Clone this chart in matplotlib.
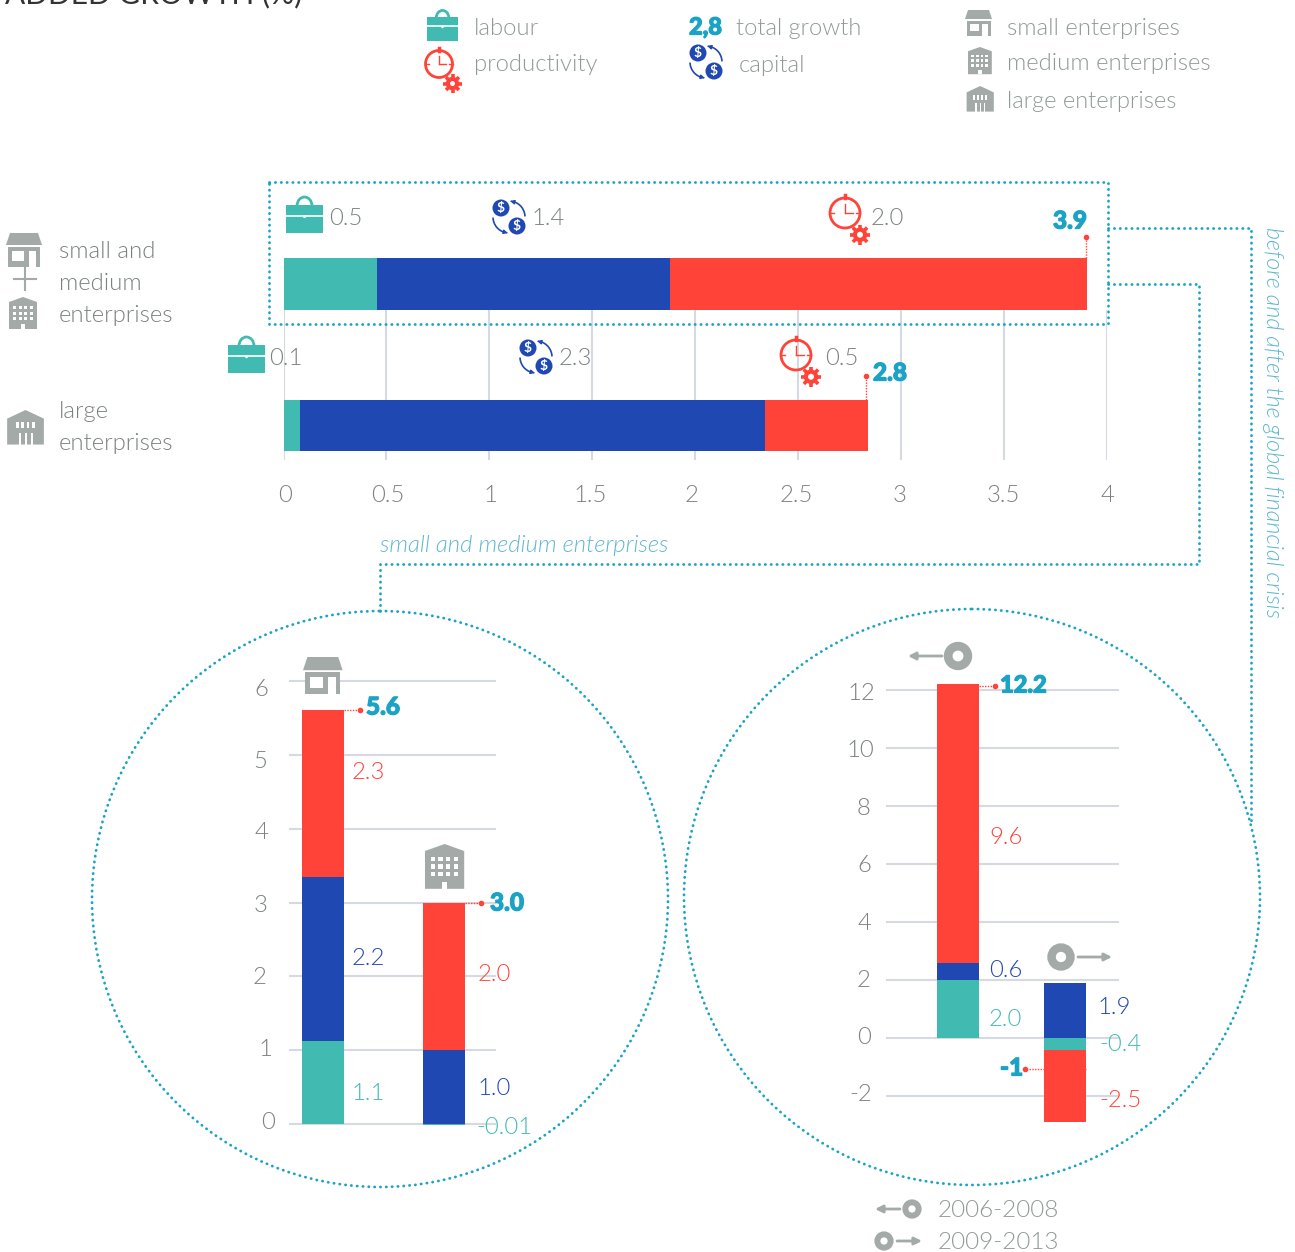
import numpy as np
import matplotlib
matplotlib.use('Agg')
import matplotlib.pyplot as plt
import matplotlib.patheffects as pe
from matplotlib.patches import Rectangle, Circle, Polygon, Arc, Ellipse

W, H = 1295, 1252
TEAL = '#41bbb1'
BLUE = '#2048b2'
RED = '#ff4338'
CYAN = '#1ba3c6'
GRID = '#d5dae2'
ICON = '#a3aaa7'
TXT = '#8f9a98'
NUM = '#7b8180'
LIGHT = 300

plt.rcParams['font.family'] = ['Lato', 'DejaVu Sans']

# top chart, percent points
top_groups = ['sme', 'large']
top_labour = [0.455, 0.08]
top_capital = [1.425, 2.26]
top_prod = [2.025, 0.50]
top_ticks = [0, 0.5, 1, 1.5, 2, 2.5, 3, 3.5, 4]
top_ticklabels = ['0', '0.5', '1', '1.5', '2', '2.5', '3', '3.5', '4']

# small vs medium
size_labour = [1.13, -0.01]
size_capital = [2.22, 1.0]
size_prod = [2.26, 2.0]
size_ticks = [0, 1, 2, 3, 4, 5, 6]

# before vs after the crisis
per_labour = [2.0, -0.4]
per_capital = [0.6, 1.9]
per_prod = [9.6, -2.5]
per_ticks = [-2, 0, 2, 4, 6, 8, 10, 12]


def px_axes(fig, left, top, right, bottom):
    # axes placed by pixel box, y measured from the top of the picture
    return fig.add_axes([left / W, 1 - bottom / H, (right - left) / W, (bottom - top) / H])


def clean(ax):
    ax.patch.set_alpha(0)
    for s in ax.spines.values():
        s.set_visible(False)
    ax.tick_params(length=0, labelcolor=NUM, labelsize=17)


fig = plt.figure(figsize=(W / 100, H / 100), dpi=100, facecolor='white')

# ---- top horizontal bars
ax = px_axes(fig, 283.5, 230, 1106.5, 460)
clean(ax)
row_h = 141.5
ax.set_xlim(0, 4)
ax.set_ylim((460 - 284) / row_h, (230 - 284) / row_h)
ypos = np.arange(len(top_groups))
ax.vlines(top_ticks, 26 / row_h, (460 - 284) / row_h, color=GRID, lw=1.5, zorder=1)
ax.barh(ypos, top_labour, 0.364, color=TEAL, zorder=2)
ax.barh(ypos, top_capital, 0.364, left=top_labour, color=BLUE, zorder=2)
ax.barh(ypos, top_prod, 0.364, left=np.add(top_labour, top_capital), color=RED, zorder=2)
ax.set_xticks([])
ax.set_yticks([])

# ---- small / medium bars
ax2 = px_axes(fig, 289, 660, 496, 1140)
clean(ax2)
unit = 73.8
ax2.set_ylim((1124 - 1140) / unit, (1124 - 660) / unit)
gap = 121.0
ax2.set_xlim((289 - 323) / gap, (496 - 323) / gap)
ax2.hlines(size_ticks, (289 - 323) / gap, (496 - 323) / gap, color=GRID, lw=1.5, zorder=1)
xpos = np.arange(2)
ax2.bar(xpos, size_labour, 42 / gap, color=TEAL, zorder=2)
base = np.maximum(size_labour, 0)
ax2.bar(xpos, size_capital, 42 / gap, bottom=base, color=BLUE, zorder=2)
ax2.bar(xpos, size_prod, 42 / gap, bottom=base + np.array(size_capital), color=RED, zorder=2)
ax2.set_yticks([])
ax2.set_xticks([])

# ---- crisis bars
ax3 = px_axes(fig, 886, 660, 1119, 1140)
clean(ax3)
unit3 = 29.0
ax3.set_ylim((1038 - 1140) / unit3, (1038 - 660) / unit3)
gap3 = 107.0
ax3.set_xlim((885.5 - 958) / gap3, (1119 - 958) / gap3)
ax3.hlines(per_ticks, (885.5 - 958) / gap3, (1119 - 958) / gap3, color=GRID, lw=1.5, zorder=1)
ax3.bar(xpos, per_labour, 42 / gap3, color=TEAL, zorder=2)
ax3.bar(xpos, per_capital, 42 / gap3, bottom=[per_labour[0], 0], color=BLUE, zorder=2)
ax3.bar(xpos, per_prod, 42 / gap3, bottom=[per_labour[0] + per_capital[0], per_labour[1]], color=RED, zorder=2)
ax3.set_yticks([])
ax3.set_xticks([])

# ---- overlay in pixel coordinates for icons, notes and frames
ov = fig.add_axes([0, 0, 1, 1], zorder=5)
ov.set_xlim(0, W)
ov.set_ylim(H, 0)
ov.axis('off')
ov.patch.set_alpha(0)


def label(x, y, s, color=TXT, size=17.2, weight=LIGHT, **kw):
    # lato sits high when centred
    ov.text(x, y + 2.7, s, color=color, fontsize=size, fontweight=weight, va='center', ha=kw.pop('ha', 'left'), **kw)


def bold(x, y, s, size=17.5):
    t = ov.text(x, y + 1, s, color=CYAN, fontsize=size, fontweight='black', va='center', ha='left')
    t.set_path_effects([pe.withStroke(linewidth=0.9, foreground=CYAN)])


def dots(xs, ys, color=CYAN, lw=2.0):
    ov.plot(xs, ys, color=color, lw=lw, ls=(0, (0.1, 2.0)), dash_capstyle='round', solid_capstyle='round')


def leader(xs, ys):
    ov.plot(xs, ys, color=RED, lw=1.0, ls=(0, (1, 1)))
    ov.plot(xs[-1], ys[-1], 'o', color=RED, ms=3)


def briefcase(x, y, s=1.0):
    # x, y = top left of the case body
    w, h = 37 * s, 28 * s
    ov.add_patch(Arc((x + w / 2, y + 1), 15 * s, 18 * s, theta1=180, theta2=360, color=TEAL, lw=2))
    ov.add_patch(Rectangle((x, y), w, h, color=TEAL, lw=0))
    ov.plot([x, x + w], [y + h * 0.38] * 2, color='white', lw=1.2)
    ov.add_patch(Circle((x + w / 2, y + h * 0.38 + 1), 1.5 * s, color='white', lw=0, zorder=3))


def stopwatch(x, y, r=15.0):
    ov.add_patch(Circle((x, y), r, fill=False, ec=RED, lw=2))
    ov.plot([x, x], [y - r - 3, y - r], color=RED, lw=2.5)
    ov.plot([x, x], [y - r * 0.6, y], color=RED, lw=1)
    ov.plot([x, x + r * 0.55], [y, y], color=RED, lw=1)
    ov.plot([x - r, x - r * 0.75], [y, y], color=RED, lw=1)
    ov.plot([x + r, x + r * 0.75], [y, y], color=RED, lw=1)
    gx, gy = x + r * 1.0, y + r * 1.45
    g = r * 0.5
    for a in np.arange(0, np.pi, np.pi / 4):
        ov.plot([gx - g * 1.35 * np.cos(a), gx + g * 1.35 * np.cos(a)],
                [gy - g * 1.35 * np.sin(a), gy + g * 1.35 * np.sin(a)], color=RED, lw=2.6, solid_capstyle='butt')
    ov.add_patch(Circle((gx, gy), g * 0.68, fc='white', ec=RED, lw=3, zorder=3))


def coins(x, y, s=1.0):
    # x, y = centre of the pair
    r = 8.5 * s
    for cx, cy in [(x - 8 * s, y - 9 * s), (x + 8 * s, y + 9 * s)]:
        ov.add_patch(Circle((cx, cy), r, color=BLUE, lw=0))
        ov.text(cx, cy, '$', color='white', fontsize=10 * s, fontweight='bold', ha='center', va='center')
    ov.add_patch(Arc((x, y), 32 * s, 32 * s, theta1=285, theta2=358, color=BLUE, lw=1.2))
    ov.add_patch(Arc((x, y), 32 * s, 32 * s, theta1=105, theta2=178, color=BLUE, lw=1.2))
    ov.annotate('', (x + 1 * s, y - 16 * s), (x + 5 * s, y - 15 * s),
                arrowprops=dict(arrowstyle='-|>', color=BLUE, lw=1, mutation_scale=6))
    ov.annotate('', (x - 1 * s, y + 16 * s), (x - 5 * s, y + 15 * s),
                arrowprops=dict(arrowstyle='-|>', color=BLUE, lw=1, mutation_scale=6))


def shop(x, y, s=1.0):
    # x, y = top left, about 36 wide and 34 high at s=1
    ov.add_patch(Polygon([(x + 4 * s, y), (x + 32 * s, y), (x + 36 * s, y + 12 * s), (x, y + 12 * s)], color=ICON, lw=0))
    ov.add_patch(Rectangle((x + 2 * s, y + 14 * s), 32 * s, 20 * s, color=ICON, lw=0))
    ov.add_patch(Rectangle((x + 6 * s, y + 18 * s), 12 * s, 10 * s, color='white', lw=0))
    ov.add_patch(Rectangle((x + 23 * s, y + 18 * s), 7 * s, 16 * s, color='white', lw=0))


def office(x, y, s=1.0):
    # x, y = top left, about 28 wide and 32 high at s=1
    ov.add_patch(Polygon([(x, y + 5 * s), (x + 14 * s, y), (x + 28 * s, y + 5 * s), (x + 28 * s, y + 32 * s), (x, y + 32 * s)], color=ICON, lw=0))
    for i in range(4):
        for j in range(3):
            ov.add_patch(Rectangle((x + (4 + 5.5 * i) * s, y + (9 + 5.5 * j) * s), 3 * s, 3 * s, color='white', lw=0))
    ov.add_patch(Rectangle((x + 12 * s, y + 27 * s), 4 * s, 5 * s, color='white', lw=0))


def bank(x, y, s=1.0):
    # x, y = top left, about 38 wide and 32 high at s=1
    ov.add_patch(Polygon([(x + 2 * s, y + 8 * s), (x + 19 * s, y), (x + 36 * s, y + 8 * s), (x + 36 * s, y + 32 * s),
                          (x + 2 * s, y + 32 * s)], color=ICON, lw=0))
    for i in range(4):
        ov.add_patch(Rectangle((x + (10 + 5 * i) * s, y + 11 * s), 2.5 * s, 6 * s, color='white', lw=0))
    for i in range(3):
        ov.add_patch(Rectangle((x + (13 + 5.5 * i) * s, y + 21 * s), 1.5 * s, 11 * s, color='white', lw=0))


def ring(x, y, r, x0, x1):
    ov.add_patch(Circle((x, y), r * 0.7, fill=False, ec=ICON, lw=r * 0.45))
    ov.annotate('', (x1, y), (x0, y), arrowprops=dict(arrowstyle='-|>', color=ICON, lw=2, mutation_scale=11, shrinkA=0, shrinkB=0))


# clipped heading at the very top
ov.text(5, 3, 'ADDED GROWTH (%)', color='#333333', fontsize=21.5, va='baseline', clip_on=False)

# legend
briefcase(427, 17, 0.84)
stopwatch(439, 64, 13.5)
label(474, 25.5, 'labour')
label(474, 62, 'productivity')
bold(689, 26, '2,8', 17)
label(736, 25.5, 'total growth', size=17)
coins(706, 62, 1.0)
label(739, 63, 'capital')
shop(965, 10, 0.75)
office(968, 47, 0.85)
bank(965, 86, 0.8)
label(1007, 25.5, 'small enterprises')
label(1007, 61, 'medium enterprises')
label(1007, 99, 'large enterprises', size=17)

# row labels
shop(6, 233, 1.0)
ov.plot([14, 36], [279, 279], color=ICON, lw=1.5)
ov.plot([25, 25], [268, 290], color=ICON, lw=1.5)
office(9, 297, 1.0)
bank(5, 410, 1.08)
for yy, s in zip([249, 281, 313, 409, 441], ['small and', 'medium', 'enterprises', 'large', 'enterprises']):
    label(59, yy, s, color=NUM)

# values above the bars
briefcase(286, 205)
label(329, 216, f'{0.5:.1f}', color=NUM)
coins(509, 217)
label(532, 216, f'{1.4:.1f}', color=NUM)
stopwatch(845, 213, 15)
label(871, 216, f'{2.0:.1f}', color=NUM)
bold(1053, 220, f'{3.9:.1f}')
briefcase(228, 345)
label(269, 356, f'{0.1:.1f}', color=NUM)
coins(536, 357)
label(559, 356, f'{2.3:.1f}', color=NUM)
stopwatch(796, 355, 15)
label(825, 356, f'{0.5:.1f}', color=NUM)
bold(873, 372, f'{2.8:.1f}')
leader([1086, 1086], [258, 237])
leader([866, 866], [400, 376])

# tick labels of the top chart
for s, xc in zip(top_ticklabels, [285, 388, 490, 590, 692, 796, 900, 1003, 1107]):
    label(xc, 492.5, s, color=NUM, ha='center')

# frames and connectors
dots([269, 1108, 1108, 269, 269], [182, 182, 324, 324, 182])
dots([1108, 1251, 1251], [228, 228, 822])
dots([1108, 1199, 1199, 380, 380], [284, 284, 564, 564, 612])
ov.add_patch(Ellipse((380, 899), 576, 576, fill=False, ec=CYAN, lw=2, ls=(0, (0.1, 2.0)), capstyle='round'))
ov.add_patch(Ellipse((972, 897), 576, 576, fill=False, ec=CYAN, lw=2, ls=(0, (0.1, 2.0)), capstyle='round'))
label(380, 543, 'small and medium enterprises', color='#5fb7cf', style='italic')
ov.text(1273, 227, 'before and after the global financial crisis', color='#5fb7cf', fontsize=16.8, fontweight=LIGHT,
        style='italic', rotation=270, va='top', ha='center')

# tick labels of the circles sit a little off their grid lines in the original
for v, xc, yc in zip(size_ticks, [268, 265, 260, 261, 261, 260, 261], [1120, 1047, 975, 903, 830, 759, 687]):
    label(xc, yc, str(v), color=NUM, ha='center')
for v, xc, yc in zip(per_ticks, [861, 864, 864, 864, 864, 864, 860, 861], [1092, 1035, 978, 921, 863, 806, 748, 691]):
    label(xc, yc, str(v), color=NUM, ha='center')

# left circle notes
shop(303, 657, 1.1)
office(425, 844, 1.4)
label(352, 770, '2.3', color=RED)
label(352, 956, '2.2', color=BLUE)
label(351, 1091, '1.1', color=TEAL)
label(478, 972, '2.0', color=RED)
label(478, 1086, '1.0', color=BLUE)
label(476, 1125, '-0.01', color=TEAL)
bold(366, 706, '5.6')
bold(490, 902, '3.0')
leader([344, 360], [710, 710])
leader([465, 481], [903, 903])

# right circle notes
ring(958, 656, 14, 942, 908)
ring(1061, 957, 13.5, 1078, 1112)
label(989, 835, '9.6', color=RED)
label(989, 968, '0.6', color=BLUE)
label(989, 1017, '2.0', color=TEAL)
label(1097, 1005, '1.9', color=BLUE)
label(1099, 1042, '-0.4', color=TEAL)
label(1099, 1098, '-2.5', color=RED)
bold(1000, 684, '12.2', 17)
bold(1000, 1067, '-1')
leader([979, 995], [686, 686])
leader([1086, 1025], [1069, 1069])

# period key
ring(912, 1209, 9.5, 900, 875)
ring(884, 1241, 9.5, 897, 922)
label(938, 1208, '2006-2008', size=17.5)
label(938, 1240, '2009-2013', size=17.5)

fig.savefig('out.png', dpi=100)
